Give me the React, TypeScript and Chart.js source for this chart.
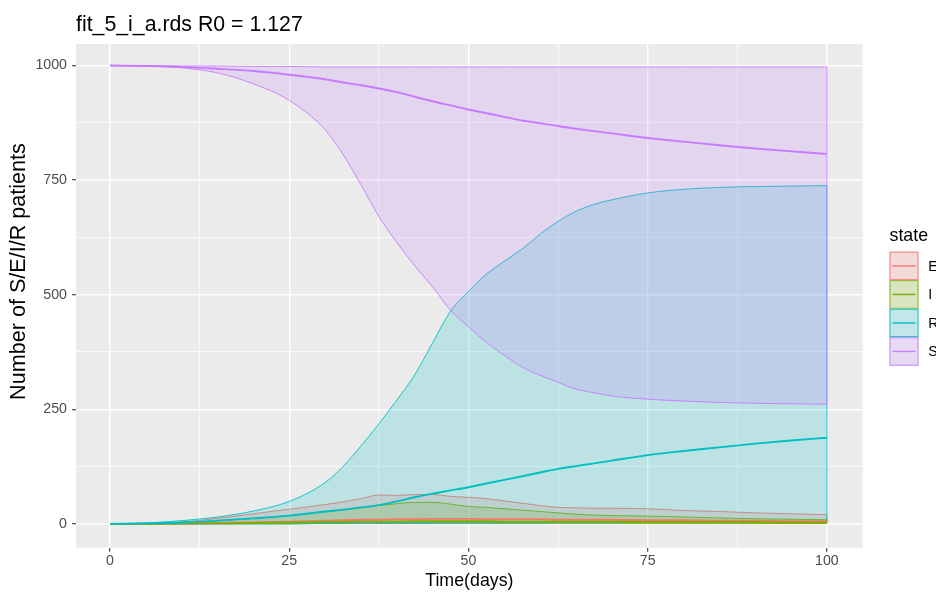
import { useEffect, useRef } from 'react';
import { Chart, registerables } from 'chart.js';

Chart.register(...registerables);

const TITLE = 'fit_5_i_a.rds R0 = 1.127';
const X_TITLE = 'Time(days)';
const Y_TITLE = 'Number of S/E/I/R patients';
const LEGEND_TITLE = 'state';
const STATES = ['E', 'I', 'R', 'S'];

const days = [0, 5, 10, 15, 20, 25, 30, 32.5, 35, 37.5, 40, 42.5, 45, 47.5, 50, 52.5, 55, 57.5, 60, 62.5, 65, 67.5, 70, 75, 80, 85, 90, 95, 100];

const sHi = [1000, 1000, 999, 999, 998, 998, 997, 997, 997, 997, 997, 997, 997, 997, 997, 997, 997, 997, 997, 997, 997, 997, 997, 997, 997, 997, 997, 997, 997];
const sMed = [1000, 999, 997, 993, 988, 980, 970, 963, 957, 950, 942, 932, 922, 913, 904, 896, 888, 880, 874, 868, 862, 857, 852, 842, 834, 826, 819, 813, 807];
const sLo = [1000, 999, 995, 984, 960, 924, 860, 806, 740, 671, 614, 563, 517, 466, 430, 396, 368, 342, 324, 309, 294, 286, 279, 272, 268, 265, 263, 262, 261];

const rHi = [0, 2, 7, 15, 28, 49, 90, 125, 170, 218, 270, 325, 395, 464, 507, 545, 573, 600, 632, 660, 682, 697, 707, 722, 730, 734, 736, 737, 738];
const rMed = [0, 1, 3, 7, 12, 18, 27, 31, 36, 41, 49, 58, 66, 73, 80, 88, 96, 104, 112, 120, 126, 132, 138, 150, 159, 167, 175, 182, 188];
const rLo = [0, 0, 0, 0, 0, 0, 1, 1, 1, 1, 1, 1, 2, 2, 2, 2, 2, 2, 2, 3, 3, 3, 3, 3, 3, 3, 3, 3, 3];

const eHi = [0, 1, 4, 12, 22, 32, 42, 48, 55, 63, 62, 64, 64, 60, 58, 55, 50, 45, 40, 36, 35, 34, 34, 33, 29, 27, 24, 22, 20];
const eMed = [0, 0, 1, 2, 3, 5, 7, 8, 9, 9, 10, 10, 11, 11, 11, 10, 10, 10, 10, 9, 9, 9, 9, 8, 8, 7, 7, 6, 6];
const eLo = [0, 0, 0, 1, 1, 2, 2, 3, 3, 3, 3, 3, 3, 3, 3, 3, 3, 3, 3, 3, 3, 3, 3, 3, 2, 2, 2, 2, 2];

const iHi = [0, 1, 3, 7, 12, 18, 26, 30, 35, 40, 44, 47, 47, 43, 38, 36, 33, 30, 27, 24, 21, 19, 18, 17, 15, 13, 11, 10, 9];
const iMed = [0, 0, 1, 1, 2, 3, 4, 4, 5, 5, 5, 6, 6, 6, 6, 6, 5, 5, 5, 5, 5, 5, 5, 4, 4, 4, 4, 3, 3];
const iLo = [0, 0, 0, 0, 0, 0, 1, 1, 1, 1, 1, 1, 1, 1, 1, 1, 1, 1, 1, 1, 1, 1, 1, 1, 1, 1, 1, 1, 1];

const xTickValues = [0, 12.5, 25, 37.5, 50, 62.5, 75, 87.5, 100];
const yTickValues = [0, 125, 250, 375, 500, 625, 750, 875, 1000];

const COLORS: Record<string, string> = { E: '#F8766D', I: '#7CAE00', R: '#00BFC4', S: '#C77CFF' };
const FILLS: Record<string, string> = {
  E: 'rgba(248,118,109,0.2)',
  I: 'rgba(124,174,0,0.2)',
  R: 'rgba(0,191,196,0.2)',
  S: 'rgba(199,124,255,0.2)',
};

const FONT = '"Liberation Sans", Arial, Helvetica, sans-serif';

const pts = (ys: number[]) => days.map((d, i) => ({ x: d, y: ys[i] }));

function buildDatasets() {
  const ds: any[] = [];
  const line = (state: string, ys: number[]) => ({
    label: state + ' median',
    data: pts(ys),
    borderColor: COLORS[state],
    borderWidth: 1.9,
    pointRadius: 0,
    fill: false,
    cubicInterpolationMode: 'monotone',
  });
  ds.push(line('S', sMed), line('R', rMed), line('I', iMed), line('E', eMed));
  const ribbons: [string, number[], number[]][] = [
    ['S', sLo, sHi],
    ['R', rLo, rHi],
    ['I', iLo, iHi],
    ['E', eLo, eHi],
  ];
  for (const [state, lo, hi] of ribbons) {
    const loIdx = ds.length;
    ds.push({
      label: state + ' lower',
      data: pts(lo),
      borderColor: COLORS[state],
      borderWidth: 0.9,
      pointRadius: 0,
      fill: false,
      cubicInterpolationMode: 'monotone',
    });
    ds.push({
      label: state + ' upper',
      data: pts(hi),
      borderColor: COLORS[state],
      backgroundColor: FILLS[state],
      borderWidth: 0.9,
      pointRadius: 0,
      fill: loIdx,
      cubicInterpolationMode: 'monotone',
    });
    const last = days.length - 1;
    ds.push({
      label: state + ' edge',
      data: [
        { x: days[last], y: lo[last] },
        { x: days[last], y: hi[last] },
      ],
      borderColor: COLORS[state],
      borderWidth: 0.9,
      pointRadius: 0,
      fill: false,
    });
  }
  return ds;
}

const ggPlugin = {
  id: 'ggstyle',
  beforeDraw(chart: any) {
    const { ctx, chartArea: a } = chart;
    ctx.save();
    ctx.fillStyle = '#EBEBEB';
    ctx.fillRect(a.left, a.top, a.right - a.left, a.bottom - a.top);
    ctx.restore();
  },
  afterDraw(chart: any) {
    const { ctx, chartArea: a } = chart;
    ctx.save();
    // title
    ctx.fillStyle = '#000000';
    ctx.font = `21.3px ${FONT}`;
    ctx.textBaseline = 'alphabetic';
    ctx.textAlign = 'left';
    ctx.fillText(TITLE, a.left, 30.5);
    // y axis title
    ctx.save();
    ctx.translate(25, 271.5);
    ctx.rotate(-Math.PI / 2);
    ctx.font = `21.6px ${FONT}`;
    ctx.textAlign = 'center';
    ctx.fillText(Y_TITLE, 0, 0);
    ctx.restore();
    // legend
    const lx = 889.5;
    ctx.font = `17.8px ${FONT}`;
    ctx.textAlign = 'left';
    ctx.fillText(LEGEND_TITLE, lx, 240.5);
    const keyW = 29;
    const keyH = 28.5;
    let y = 251.7;
    ctx.font = `14.2px ${FONT}`;
    for (const s of STATES) {
      ctx.fillStyle = '#F2F2F2';
      ctx.fillRect(lx, y, keyW, keyH);
      ctx.fillStyle = FILLS[s];
      ctx.fillRect(lx, y, keyW, keyH);
      ctx.strokeStyle = COLORS[s];
      ctx.lineWidth = 0.9;
      ctx.strokeRect(lx + 0.5, y + 0.5, keyW - 1, keyH - 1);
      ctx.lineWidth = 1.4;
      ctx.beginPath();
      ctx.moveTo(lx + 3, y + keyH / 2);
      ctx.lineTo(lx + keyW - 3, y + keyH / 2);
      ctx.stroke();
      ctx.fillStyle = '#000000';
      ctx.fillText(s, 928.3, y + keyH / 2 + 5);
      y += keyH;
    }
    ctx.restore();
  },
};

export default function App() {
  const ref = useRef<HTMLCanvasElement | null>(null);
  useEffect(() => {
    document.body.style.margin = '0';
    if (!ref.current) return;
    Chart.defaults.font.family = FONT;
    const isMajorX = (v: number) => Math.abs(v % 25) < 1e-9;
    const isMajorY = (v: number) => Math.abs(v % 250) < 1e-9;
    const chart = new Chart(ref.current, {
      type: 'line',
      data: { datasets: buildDatasets() },
      plugins: [ggPlugin],
      options: {
        animation: false,
        responsive: true,
        maintainAspectRatio: false,
        layout: { padding: { top: 44, right: 73.3, left: 0, bottom: 0 } },
        plugins: {
          legend: { display: false },
          tooltip: { enabled: false },
          title: { display: false },
        },
        scales: {
          x: {
            type: 'linear',
            min: -4.75,
            max: 105,
            afterBuildTicks: (s: any) => {
              s.ticks = xTickValues.map((v) => ({ value: v }));
            },
            afterFit: (s: any) => {
              s.height = 44.3;
            },
            ticks: {
              autoSkip: false,
              maxRotation: 0,
              padding: 1,
              color: '#4D4D4D',
              font: { size: 14.2 },
              callback: (v: any) => (isMajorX(Number(v)) ? String(v) : ''),
            },
            grid: {
              color: '#FFFFFF',
              lineWidth: (c: any) => (c.tick && isMajorX(c.tick.value) ? 1.4 : 0.7),
              tickColor: (c: any) => (c.tick && isMajorX(c.tick.value) ? '#333333' : 'rgba(0,0,0,0)'),
              tickWidth: 1.1,
              tickLength: 4,
              drawTicks: true,
            },
            border: { display: false },
            title: {
              display: true,
              text: X_TITLE,
              color: '#000000',
              font: { size: 17.8 },
              padding: { top: 0, bottom: 0 },
            },
          },
          y: {
            type: 'linear',
            min: -52,
            max: 1047,
            afterBuildTicks: (s: any) => {
              s.ticks = yTickValues.map((v) => ({ value: v }));
            },
            afterFit: (s: any) => {
              s.width = 76;
            },
            ticks: {
              autoSkip: false,
              padding: 5,
              color: '#4D4D4D',
              font: { size: 14.2 },
              callback: (v: any) => (isMajorY(Number(v)) ? String(v) : ''),
            },
            grid: {
              color: '#FFFFFF',
              lineWidth: (c: any) => (c.tick && isMajorY(c.tick.value) ? 1.4 : 0.7),
              tickColor: (c: any) => (c.tick && isMajorY(c.tick.value) ? '#333333' : 'rgba(0,0,0,0)'),
              tickWidth: 1.1,
              tickLength: 4,
              drawTicks: true,
            },
            border: { display: false },
            title: { display: false },
          },
        },
      },
    });
    return () => chart.destroy();
  }, []);
  return (
    <div style={{ width: 936, height: 592, position: 'relative' }}>
      <canvas ref={ref} />
    </div>
  );
}
